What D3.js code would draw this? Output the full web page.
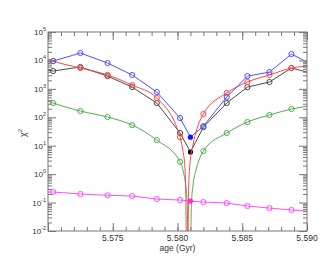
<!DOCTYPE html>
<html>
<head>
<meta charset="utf-8">
<script src="https://cdn.jsdelivr.net/npm/d3@7/dist/d3.min.js"></script>
<style>
  body { margin: 0; background: #fff; }
  text { font-family: "Liberation Sans", Arial, sans-serif; fill: #333; }
</style>
</head>
<body>
<div id="chart"></div>
<script>
// Model ages (Gyr) where the open markers sit, and the best-fit age
var markAges = [5.5704, 5.5725, 5.5746, 5.5765, 5.5784, 5.5802, 5.5820, 5.5838, 5.5854, 5.5871, 5.5888];
var bestAge = 5.5810;
var edgeAges = [5.5700, 5.5900];

// chi^2 per series at the markers
var blueMarks = [9500, 18200, 8100, 3080, 775, 94, 49, 515, 2800, 3900, 16700];
var blueEdge = [9500, 8800];
var blueBest = 20;

var blackMarks = [4240, 5880, 2810, 1150, 318, 28, 45, 318, 1150, 1740, 5400];
var blackEdge = [4580, 3900];
var blackBest = 6.0;

var redMarks = [9500, 5400, 3080, 1350, 475, 20, 130, 715, 1740, 3080, 5400];
var redEdge = [11100, 6300];
// red curve read near its minimum
var redDipAges = [5.58042, 5.58058, 5.58064, 5.58069, 5.58080, 5.58086, 5.58097, 5.58120, 5.58151];
var redDipVals = [6.5, 1.6, 0.2, 0.004, 0.004, 0.3, 2.5, 11, 40];

var greenMarks = [318, 166, 102, 53, 15.8, 2.7, 6.5, 28, 68, 120, 195];
var greenEdge = [372, 246];
var greenDipAges = [5.58050, 5.58066, 5.58076, 5.58080, 5.58101, 5.58107, 5.58120, 5.58143, 5.58166];
var greenDipVals = [0.95, 0.32, 0.08, 0.004, 0.004, 0.08, 0.41, 1.4, 3.1];

var magentaMarks = [0.235, 0.20, 0.18, 0.17, 0.133, 0.123, 0.104, 0.096, 0.076, 0.064, 0.055];
var magentaEdge = [0.235, 0.050];
var magentaBest = 0.113;

var xMajor = [5.570, 5.575, 5.580, 5.585, 5.590];
var yExponents = [-2, -1, 0, 1, 2, 3, 4, 5];

// Dimensions
var svgWidth = 333;
var svgHeight = 267;
var margin = { top: 32, bottom: 36, left: 48, right: 26 };
var width = svgWidth - margin.left - margin.right;
var height = svgHeight - margin.top - margin.bottom;

var svg = d3.select("#chart")
    .append("svg")
    .attr("width", svgWidth)
    .attr("height", svgHeight);

var chartGroup = svg.append("g")
    .attr("transform", `translate(${margin.left}, ${margin.top})`);

var xScale = d3.scaleLinear().domain([5.570, 5.590]).range([0, width]);
var yScale = d3.scaleLog().domain([1e-2, 1e5]).range([height, 0]);

// clip lines to the plot box
svg.append("defs").append("clipPath").attr("id", "clip")
    .append("rect").attr("width", width).attr("height", height);

// Build the point list of a series
function withBest(marks, edge, best) {
    var pts = [[edgeAges[0], edge[0]]];
    markAges.forEach((a, i) => pts.push([a, marks[i]]));
    if (best !== null) pts.push([bestAge, best]);
    pts.push([edgeAges[1], edge[1]]);
    return pts.sort((a, b) => a[0] - b[0]);
}
function withDip(marks, edge, dipAges, dipVals) {
    var pts = withBest(marks, edge, null);
    dipAges.forEach((a, i) => pts.push([a, dipVals[i]]));
    return pts.sort((a, b) => a[0] - b[0]);
}

var series = [
    { color: "#4fae4f", pts: withDip(greenMarks, greenEdge, greenDipAges, greenDipVals), marks: greenMarks, curve: d3.curveMonotoneX },
    { color: "#ff4cff", pts: withBest(magentaMarks, magentaEdge, magentaBest), marks: magentaMarks, best: magentaBest, fill: "#ff20ff", curve: d3.curveLinear },
    { color: "#4a4a4a", pts: withBest(blackMarks, blackEdge, blackBest), marks: blackMarks, best: blackBest, fill: "#000", curve: d3.curveLinear },
    { color: "#ff4646", pts: withDip(redMarks, redEdge, redDipAges, redDipVals), marks: redMarks, curve: d3.curveMonotoneX },
    { color: "#5050ff", pts: withBest(blueMarks, blueEdge, blueBest), marks: blueMarks, best: blueBest, fill: "#1414ff", curve: d3.curveLinear }
];

var plot = chartGroup.append("g").attr("clip-path", "url(#clip)");

series.forEach(function (s) {
    var line = d3.line()
        .x(d => xScale(d[0]))
        .y(d => yScale(d[1]))
        .curve(s.curve);
    plot.append("path")
        .datum(s.pts)
        .attr("fill", "none")
        .attr("stroke", s.color)
        .attr("stroke-width", 1)
        .attr("d", line);

    plot.selectAll(null)
        .data(s.marks)
        .enter()
        .append("circle")
        .attr("cx", (d, i) => xScale(markAges[i]))
        .attr("cy", d => yScale(d))
        .attr("r", 2.6)
        .attr("fill", "none")
        .attr("stroke", s.color)
        .attr("stroke-width", 1);

    if (s.best !== undefined) {
        plot.append("circle")
            .attr("cx", xScale(bestAge))
            .attr("cy", yScale(s.best))
            .attr("r", 2.6)
            .attr("fill", s.fill);
    }
});

// Ticks
var yMinor = [];
yExponents.slice(0, -1).forEach(e => {
    for (var k = 2; k <= 9; k++) yMinor.push(k * Math.pow(10, e));
});
var yMajorVals = yExponents.map(e => Math.pow(10, e));
var xMinor = d3.range(0, 21).map(i => 5.570 + i * 0.001);

function styleAxis(g) {
    g.select(".domain").remove();
    g.selectAll("line").attr("stroke", "#777");
    g.selectAll("text").remove();
}

chartGroup.append("g").call(d3.axisRight(yScale).tickValues(yMinor).tickSize(4)).call(styleAxis);
chartGroup.append("g").call(d3.axisRight(yScale).tickValues(yMajorVals).tickSize(8)).call(styleAxis);
chartGroup.append("g").attr("transform", `translate(${width},0)`)
    .call(d3.axisLeft(yScale).tickValues(yMinor).tickSize(4)).call(styleAxis);
chartGroup.append("g").attr("transform", `translate(${width},0)`)
    .call(d3.axisLeft(yScale).tickValues(yMajorVals).tickSize(8)).call(styleAxis);

chartGroup.append("g").attr("transform", `translate(0,${height})`)
    .call(d3.axisTop(xScale).tickValues(xMinor).tickSize(4)).call(styleAxis);
chartGroup.append("g").attr("transform", `translate(0,${height})`)
    .call(d3.axisTop(xScale).tickValues(xMajor).tickSize(8)).call(styleAxis);
chartGroup.append("g")
    .call(d3.axisBottom(xScale).tickValues(xMinor).tickSize(4)).call(styleAxis);
chartGroup.append("g")
    .call(d3.axisBottom(xScale).tickValues(xMajor).tickSize(8)).call(styleAxis);

// Frame
chartGroup.append("rect")
    .attr("width", width)
    .attr("height", height)
    .attr("fill", "none")
    .attr("stroke", "#777")
    .attr("stroke-width", 1);

// Y tick labels 10^n
yExponents.forEach(function (e) {
    var t = chartGroup.append("text")
        .attr("x", -2)
        .attr("y", yScale(Math.pow(10, e)) + 3)
        .attr("text-anchor", "end")
        .style("font-size", "8px");
    t.append("tspan").text("10");
    t.append("tspan").attr("dy", -4).style("font-size", "5.5px").text(e);
});

// X tick labels
chartGroup.selectAll(".xlab")
    .data(xMajor.slice(1))
    .enter()
    .append("text")
    .attr("x", d => xScale(d))
    .attr("y", height + 10)
    .attr("text-anchor", "middle")
    .style("font-size", "8.5px")
    .text(d => d.toFixed(3));

// Axis titles
chartGroup.append("text")
    .attr("x", width / 2)
    .attr("y", height + 20)
    .attr("text-anchor", "middle")
    .style("font-size", "8.5px")
    .text("age (Gyr)");

var yl = svg.append("text")
    .attr("transform", `translate(26, 133) rotate(-90)`)
    .attr("text-anchor", "middle")
    .style("font-size", "9px");
yl.append("tspan").text("χ");
yl.append("tspan").attr("dy", -4).style("font-size", "6px").text("2");
</script>
</body>
</html>
